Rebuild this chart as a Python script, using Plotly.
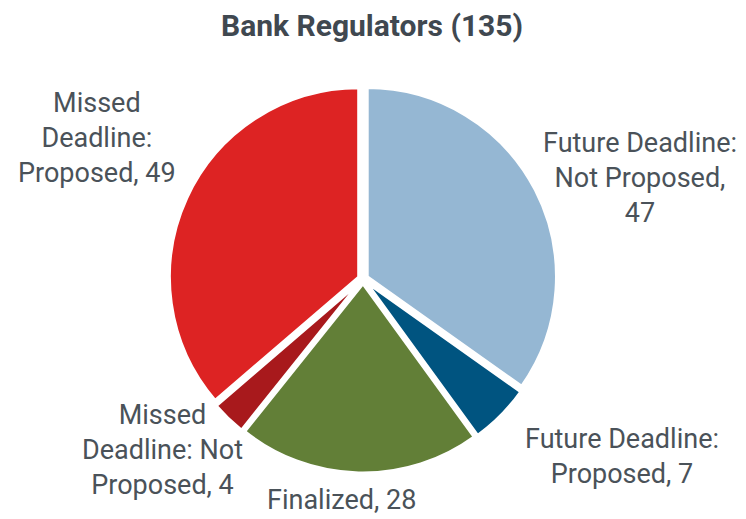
import plotly.graph_objects as go

categories = ["Future Deadline: Not Proposed", "Future Deadline: Proposed", "Finalized",
              "Missed Deadline: Not Proposed", "Missed Deadline: Proposed"]
values = [47, 7, 28, 4, 49]
label_lines = [["Future Deadline:", "Not Proposed,"], ["Future Deadline:", "Proposed,"], ["Finalized,"],
               ["Missed", "Deadline: Not", "Proposed,"], ["Missed", "Deadline:", "Proposed,"]]
value_on_new_line = [True, False, False, False, False]
colors = ["#95b7d3", "#005480", "#627f37", "#a8191c", "#dd2323"]
title_text = "Bank Regulators (135)"

W, H = 746, 519
OFF = 8  # page body margin offset of the figure in the browser
# label centres in screen pixels - layout only
label_pos = [(640, 178), (622, 456), (341, 500), (162, 450), (97, 138)]

def px2paper(x, y):
    return (x - OFF) / W, 1 - (y - OFF) / H

def make_text(lines, v, newline):
    lines = list(lines)
    if newline:
        lines.append(str(v))
    else:
        lines[-1] = lines[-1] + " " + str(v)
    return "<br>".join(lines)

cx, cy, R = 363, 279, 194
x0, y1 = px2paper(cx - R, cy - R)
x1, y0 = px2paper(cx + R, cy + R)
fig = go.Figure(go.Pie(
    labels=categories, values=values, sort=False, direction="clockwise", rotation=0,
    marker=dict(colors=colors, line=dict(color="white", width=3)),
    pull=[0.025] * len(values), textinfo="none", hoverinfo="label+value",
    domain=dict(x=[x0, x1], y=[y0, y1]),
    showlegend=False,
))

annotations = []
for (px, py), lines, v, nl in zip(label_pos, label_lines, values, value_on_new_line):
    ax, ay = px2paper(px, py)
    annotations.append(dict(
        x=ax, y=ay, xref="paper", yref="paper", xanchor="center", yanchor="middle",
        text=make_text(lines, v, nl), showarrow=False, align="center",
        font=dict(family="Roboto, Liberation Sans, Arial, sans-serif", size=27, color="#4a5259"),
    ))

tx, ty = px2paper(372, 26)
annotations.append(dict(
    x=tx, y=ty, xref="paper", yref="paper", xanchor="center", yanchor="middle",
    text="<b>" + title_text + "</b>", showarrow=False,
    font=dict(family="Roboto, Liberation Sans, Arial, sans-serif", size=30, color="#404850"),
))

fig.update_layout(
    width=W, height=H, margin=dict(l=0, r=0, t=0, b=0),
    paper_bgcolor="white", plot_bgcolor="white",
    annotations=annotations,
)
fig.write_html("out.html")
